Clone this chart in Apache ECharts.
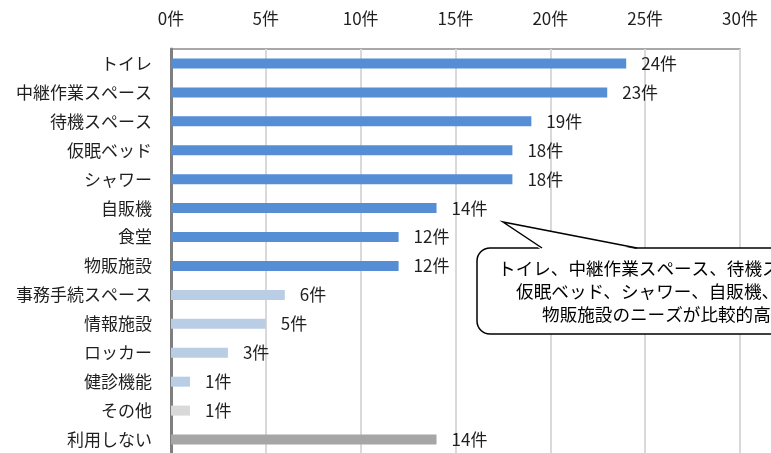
<!DOCTYPE html>
<html>
<head>
<meta charset="utf-8">
<script src="https://cdn.jsdelivr.net/npm/echarts@6/dist/echarts.min.js"></script>
<style>
  html, body { margin: 0; padding: 0; background: #ffffff; }
  #chart { width: 771px; height: 453px; }
</style>
</head>
<body>
<div id="chart"></div>
<script>
// 施設ごとの要望件数（上から表示順）
const categories = [
  'トイレ', '中継作業スペース', '待機スペース', '仮眠ベッド', 'シャワー',
  '自販機', '食堂', '物販施設', '事務手続スペース', '情報施設',
  'ロッカー', '健診機能', 'その他', '利用しない'
];
const counts = [24, 23, 19, 18, 18, 14, 12, 12, 6, 5, 3, 1, 1, 14];

// 上部の目盛
const axisMin = 0;
const axisMax = 30;
const axisStep = 5;
const unit = '件';

const calloutText = 'トイレ、中継作業スペース、待機スペース、\n仮眠ベッド、シャワー、自販機、食堂、\n物販施設のニーズが比較的高い。';

const FONT = '"Noto Sans CJK JP", "Noto Sans", sans-serif';
const TEXT = '#1f1f1f';

// 要望の多い施設は濃い青、少ない施設は薄い青、その他・利用しないは灰色
function barColor(params) {
  const name = params.name;
  if (name === 'その他') return '#d9d9d9';
  if (name === '利用しない') return '#a6a6a6';
  return params.value >= 10 ? '#558ed5' : '#b9cde5';
}

const chart = echarts.init(document.getElementById('chart'), null, { renderer: 'canvas' });

chart.setOption({
  animation: false,
  backgroundColor: '#ffffff',
  grid: {
    left: 171,
    right: 31,
    top: 49,
    height: 405,
    containLabel: false,
    outerBoundsMode: 'none',
    show: true,
    borderColor: '#8c8c8c',
    borderWidth: 1.5,
    backgroundColor: 'transparent'
  },
  xAxis: {
    type: 'value',
    position: 'top',
    min: axisMin,
    max: axisMax,
    interval: axisStep,
    axisLine: { show: false },
    axisTick: { show: false },
    axisLabel: {
      formatter: '{value}' + unit,
      color: TEXT,
      fontFamily: FONT,
      fontSize: 17,
      margin: 22
    },
    splitLine: { show: true, lineStyle: { color: '#d9d9d9', width: 2 } }
  },
  yAxis: {
    type: 'category',
    data: categories,
    inverse: true,
    axisLine: { show: true, lineStyle: { color: '#7f7f7f', width: 3 } },
    axisTick: { show: false },
    axisLabel: {
      color: TEXT,
      fontFamily: FONT,
      fontSize: 17,
      margin: 19
    }
  },
  series: [{
    type: 'bar',
    data: counts,
    barWidth: 10,
    itemStyle: { color: barColor },
    label: {
      show: true,
      position: 'right',
      distance: 15,
      formatter: '{c}' + unit,
      color: TEXT,
      fontFamily: FONT,
      fontSize: 17
    }
  }],
  graphic: [
    {
      type: 'rect',
      shape: { x: 477, y: 248, width: 400, height: 86, r: 13 },
      style: { fill: '#ffffff', stroke: '#000000', lineWidth: 1.5 },
      z: 100
    },
    {
      // 吹き出しの口：枠線を白で消してから二辺を描く
      type: 'polygon',
      shape: { points: [[503, 222], [541, 249.5], [638, 249.5]] },
      style: { fill: '#ffffff', stroke: null },
      z: 101
    },
    {
      type: 'polyline',
      shape: { points: [[542, 248], [503, 222], [637, 248]] },
      style: { fill: null, stroke: '#000000', lineWidth: 1.5 },
      z: 102
    },
    {
      type: 'text',
      style: {
        text: calloutText,
        x: 674,
        y: 291,
        align: 'center',
        verticalAlign: 'middle',
        lineHeight: 23,
        font: '17.6px ' + FONT,
        fill: '#000000'
      },
      z: 103
    }
  ]
});
</script>
</body>
</html>
